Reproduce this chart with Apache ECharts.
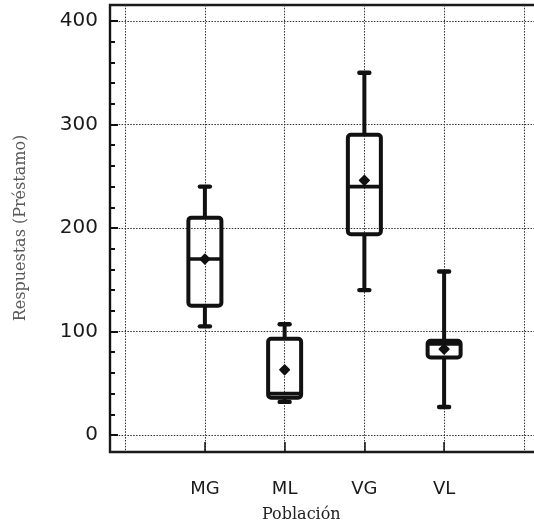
<!DOCTYPE html>
<html>
<head>
<meta charset="utf-8">
<script src="https://cdn.jsdelivr.net/npm/echarts@6/dist/echarts.min.js"></script>
<style>
  html, body { margin: 0; padding: 0; background: #fff; }
  #chart { width: 534px; height: 527px; }
</style>
</head>
<body>
<div id="chart"></div>
<script>
// Loan responses by population group: box-and-whisker summary
const categories  = ['MG', 'ML', 'VG', 'VL'];
const whiskerLow  = [105, 32, 140, 27];
const q1          = [125, 36, 194, 75];
const median      = [170, 40, 240, 88];
const q3          = [210, 93, 290, 91];
const whiskerHigh = [240, 107, 350, 158];
const mean        = [170, 63, 246, 83];

const yMin = 0, yMax = 400, yStep = 100;
const yTitle = 'Respuestas (Préstamo)';
const xTitle = 'Población';

// x positions of the groups: 1..n, with a little room beyond the outer grid lines
const xPad = 0.19;
const xLo = -xPad, xHi = categories.length + 1 + xPad;

const boxData = categories.map((c, i) =>
  [i + 1, whiskerLow[i], q1[i], median[i], q3[i], whiskerHigh[i], mean[i]]);

const ink = '#111111';
const gridInk = '#333333';
const dotted = { color: gridInk, width: 1, type: [1.5, 1.4] };

const W = 534, H = 527;
const plotLeft = 110, plotRight = W + 5, plotTop = 21, plotBottom = 435;
const frameTop = 5, frameBottom = 452;
const plotW = plotRight - plotLeft;
const px = v => plotLeft + (v - xLo) / (xHi - xLo) * plotW;

function renderBox(params, api) {
  const x = api.value(0);
  const pLow = api.coord([x, api.value(1)]);
  const pQ1 = api.coord([x, api.value(2)]);
  const pMed = api.coord([x, api.value(3)]);
  const pQ3 = api.coord([x, api.value(4)]);
  const pHigh = api.coord([x, api.value(5)]);
  const pMean = api.coord([x, api.value(6)]);
  const cx = pQ1[0];
  const hw = 16.5, capHw = 5, d = 4.8;
  const boxStyle = { stroke: ink, fill: null, lineWidth: 4 };
  const lineStyle = { stroke: ink, lineWidth: 4, lineCap: 'butt' };
  const capStyle = { stroke: ink, lineWidth: 4.4, lineCap: 'round' };
  return {
    type: 'group',
    children: [
      { type: 'line', shape: { x1: cx, y1: pHigh[1], x2: cx, y2: pQ3[1] }, style: lineStyle },
      { type: 'line', shape: { x1: cx, y1: pQ1[1], x2: cx, y2: pLow[1] }, style: lineStyle },
      { type: 'line', shape: { x1: cx - capHw, y1: pHigh[1], x2: cx + capHw, y2: pHigh[1] }, style: capStyle },
      { type: 'line', shape: { x1: cx - capHw, y1: pLow[1], x2: cx + capHw, y2: pLow[1] }, style: capStyle },
      { type: 'rect', shape: { x: cx - hw, y: pQ3[1], width: hw * 2, height: pQ1[1] - pQ3[1], r: 3 }, style: boxStyle },
      { type: 'line', shape: { x1: cx - hw, y1: pMed[1], x2: cx + hw, y2: pMed[1] }, style: { stroke: ink, lineWidth: 3.6 } },
      { type: 'polygon', shape: { points: [[cx, pMean[1] - d], [cx + d, pMean[1]], [cx, pMean[1] + d], [cx - d, pMean[1]]] },
        style: { fill: ink, stroke: ink, lineWidth: 1.5, lineJoin: 'round' } }
    ]
  };
}

const chart = echarts.init(document.getElementById('chart'), null, { renderer: 'canvas' });

chart.setOption({
  backgroundColor: '#ffffff',
  animation: false,
  grid: [
    // data area: y spans 0..400
    { left: plotLeft, right: W - plotRight, top: plotTop, bottom: H - plotBottom,
      outerBoundsMode: 'none', containLabel: false },
    // category grid lines between the frame's top and bottom
    { left: px(0), right: W - px(categories.length + 1), top: frameTop, bottom: H - frameBottom,
      outerBoundsMode: 'none', containLabel: false },
    // outer frame
    { left: plotLeft, right: W - plotRight, top: frameTop, bottom: H - frameBottom,
      outerBoundsMode: 'none', containLabel: false,
      show: true, borderColor: '#1a1a1a', borderWidth: 2.4, backgroundColor: 'transparent' }
  ],
  xAxis: [
    { gridIndex: 0, type: 'value', min: xLo, max: xHi, show: false },
    { gridIndex: 1, type: 'category', boundaryGap: false,
      data: [''].concat(categories, ['']),
      axisLine: { show: false },
      axisTick: { show: true, inside: true, length: 10,
                  interval: (i, v) => v !== '',
                  lineStyle: { color: ink, width: 1.5 } },
      splitLine: { show: true, interval: 0, lineStyle: dotted },
      axisLabel: { interval: 0, margin: 28, color: '#1a1a1a',
                   fontFamily: 'DejaVu Sans', fontSize: 18 } },
    { gridIndex: 2, type: 'value', show: false }
  ],
  yAxis: [
    { gridIndex: 0, type: 'value', min: yMin, max: yMax, interval: yStep,
      name: yTitle, nameLocation: 'middle', nameGap: 81,
      nameTextStyle: { fontFamily: 'DejaVu Serif', fontSize: 16, color: '#5a5a5a' },
      axisLine: { show: true, onZero: false, lineStyle: { color: ink, width: 2 } },
      axisTick: { show: true, inside: true, length: 8, lineStyle: { color: ink, width: 2 } },
      minorTick: { show: true, splitNumber: 5, length: 5, lineStyle: { color: ink, width: 2 } },
      splitLine: { show: true, lineStyle: dotted },
      axisLabel: { margin: 12, color: '#1a1a1a', fontFamily: 'DejaVu Sans', fontSize: 20 } },
    { gridIndex: 1, type: 'value', show: false },
    { gridIndex: 2, type: 'value', show: false }
  ],
  graphic: [
    { type: 'text', left: 302 - 40, top: 507,
      style: { text: xTitle, fontFamily: 'DejaVu Serif', fontSize: 16, fill: '#222' } }
  ],
  series: [
    { type: 'custom', name: 'Préstamo', xAxisIndex: 0, yAxisIndex: 0,
      renderItem: renderBox,
      encode: { x: 0, y: [1, 2, 3, 4, 5, 6] },
      data: boxData, z: 5 }
  ]
});
</script>
</body>
</html>
